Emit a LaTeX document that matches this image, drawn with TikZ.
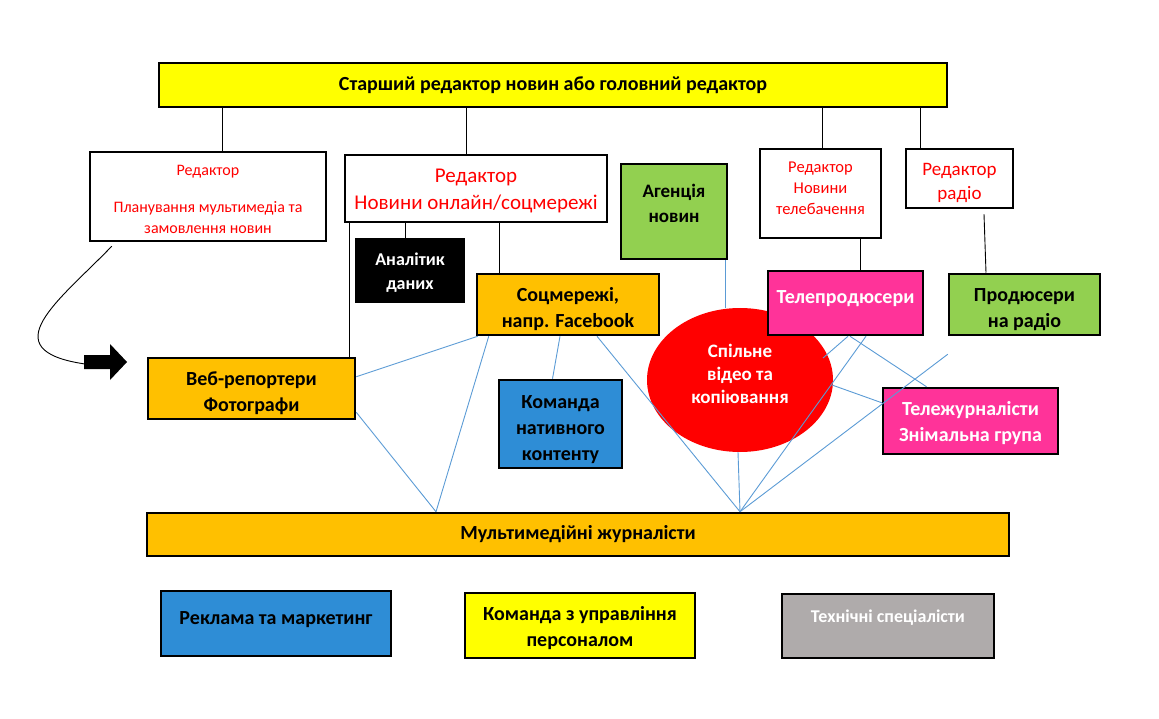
\documentclass[tikz,border=0pt]{standalone}
\usepackage{fontspec}
\setmainfont{Carlito}
\usetikzlibrary{shapes.geometric}
\definecolor{boxyellow}{RGB}{255,255,0}
\definecolor{boxorange}{RGB}{255,192,0}
\definecolor{boxgreen}{RGB}{146,208,80}
\definecolor{boxblue}{RGB}{46,141,214}
\definecolor{boxpink}{RGB}{255,51,153}
\definecolor{boxgray}{RGB}{175,171,171}
\definecolor{lineblue}{RGB}{91,155,213}
% text block moved up (positive) or down (negative) inside its box
\newcommand{\boxtext}[2]{\raisebox{#1}[\height][\depth]{\begin{tabular}{@{}c@{}}#2\end{tabular}}}
\tikzset{
  box/.style={draw, line width=2.5pt, inner sep=0pt, align=center,
    font=\bfseries\fontsize{20}{26}\selectfont},
  edbox/.style={draw, line width=2.5pt, inner sep=0pt, align=center, fill=white, text=red},
  link/.style={draw=black, line width=0.9pt},
  blink/.style={draw=lineblue, line width=0.9pt},
}
\begin{document}
\begin{tikzpicture}[x=1pt,y=-1pt]
\useasboundingbox (0,0) rectangle (1159,719);
% shared desk sits behind the producers box
\node[ellipse, fill=red, minimum width=186, minimum height=144, inner sep=0pt, align=center,
  text=white, font=\bfseries\fontsize{19}{23}\selectfont] (shared) at (740,380)
  {\boxtext{4pt}{Спільне\\відео та\\копіювання}};
\node[box, fill=boxyellow, minimum width=788, minimum height=44] (top) at (553,85)
  {Старший редактор новин або головний редактор};
\node[edbox, minimum width=236, minimum height=89, font=\fontsize{16}{21}\selectfont] (plan) at (208,196.5)
  {\boxtext{-4pt}{Редактор\\[16pt]Планування мультимедіа та\\замовлення новин}};
\node[edbox, minimum width=262, minimum height=67, font=\fontsize{21}{27}\selectfont] (online) at (476,188.5)
  {\boxtext{-2pt}{Редактор\\Новини онлайн/соцмережі}};
\node[box, fill=black, text=white, minimum width=108, minimum height=63,
  font=\bfseries\fontsize{18}{24}\selectfont] (anal) at (410,270.5) {\boxtext{-2pt}{Аналітик\\даних}};
\node[box, fill=boxorange, minimum width=182, minimum height=61] (soc) at (568,304.5)
  {\boxtext{-5pt}{Соцмережі,\\напр. Facebook}};
\node[box, fill=boxgreen, minimum width=106, minimum height=95, font=\bfseries\fontsize{19}{25}\selectfont] (agency) at (674,211.5)
  {\boxtext{6pt}{Агенція\\новин}};
\node[edbox, minimum width=121, minimum height=89, font=\fontsize{16.5}{21}\selectfont] (tved) at (820.5,193.5)
  {\boxtext{4pt}{Редактор\\Новини\\телебачення}};
\node[edbox, minimum width=107, minimum height=59, font=\fontsize{19}{24}\selectfont] (radioed) at (959.5,178.5)
  {\boxtext{-4pt}{Редактор\\радіо}};
\node[box, fill=boxpink, text=white, minimum width=155, minimum height=64] (tvprod) at (845.5,303)
  {\boxtext{5pt}{Телепродюсери}};
\node[box, fill=boxgreen, minimum width=151, minimum height=61] (radprod) at (1024.5,304.5)
  {\boxtext{-5pt}{Продюсери\\на радіо}};
\node[box, fill=boxorange, minimum width=207, minimum height=61] (web) at (251.5,388.5)
  {\boxtext{-5pt}{Веб-репортери\\Фотографи}};
\node[box, fill=boxblue, minimum width=123, minimum height=88] (native) at (560.5,424)
  {\boxtext{-5pt}{Команда\\нативного\\контенту}};
\node[box, fill=boxpink, text=white, minimum width=175, minimum height=66] (telej) at (970.5,421)
  {\boxtext{-2pt}{Тележурналісти\\Знімальна група}};
\node[box, fill=boxorange, minimum width=862, minimum height=43] (mm) at (578,534.5)
  {Мультимедійні журналісти};
\node[box, fill=boxblue, minimum width=230, minimum height=65] (ad) at (276,623.5)
  {\boxtext{4pt}{Реклама та маркетинг}};
\node[box, fill=boxyellow, minimum width=230, minimum height=65] (hr) at (580,625.5)
  {\boxtext{-3pt}{Команда з управління\\персоналом}};
\node[box, fill=boxgray, text=white, minimum width=212, minimum height=64,
  font=\bfseries\fontsize{18}{24}\selectfont] (tech) at (888,626)
  {\boxtext{8pt}{Технічні спеціалісти}};
% block arrow
\fill (84,355) -- (110,355) -- (110,344) -- (127,362) -- (110,380) -- (110,369) -- (84,369) -- cycle;
\coordinate (tail) at (85,364);
% reporting lines
\draw[link] ([xshift=14]plan.north) -- ([xshift=14]plan.north |- top.south);
\draw[link] ([xshift=-10]online.north) -- ([xshift=-10]online.north |- top.south);
\draw[link] ([xshift=1.5]tved.north) -- ([xshift=1.5]tved.north |- top.south);
\draw[link] ([xshift=-39.5]radioed.north) -- ([xshift=-39.5]radioed.north |- top.south);
\draw[link] ([xshift=-5]anal.north) -- ([xshift=-5]anal.north |- online.south);
\draw[link] ([xshift=-69]soc.north) -- ([xshift=-69]soc.north |- online.south);
\draw[link] ([xshift=6]online.south west) -- ([xshift=6]online.south west |- web.north);
\draw[link] ([xshift=14.5]tvprod.north) -- ([xshift=14.5]tvprod.north |- tved.south);
\draw[link] ([xshift=24.5,yshift=-5]radioed.south) -- ([xshift=-38.5]radprod.north);
\draw[link] ([xshift=23,yshift=-4]plan.south west) .. controls (60,300) and (-10,350) .. (tail);
% cooperation lines
\draw[blink] ([yshift=-20]web.north east) -- ([xshift=2]soc.south west);
\draw[blink] ([yshift=8]web.south east) -- ([xshift=-142]mm.north);
\draw[blink] ([xshift=13]soc.south west) -- ([xshift=-142]mm.north);
\draw[blink] ([xshift=-8]soc.south) -- ([xshift=-8]native.north);
\draw[blink] ([xshift=29]soc.south) -- ([xshift=162]mm.north);
\draw[blink] ([xshift=51]agency.south) -- ([xshift=51]agency.south |- shared.north);
\draw[blink] ([xshift=-2]shared.south) -- ([xshift=162]mm.north);
\draw[blink] ([xshift=2.5]tvprod.south) -- ([shift={(83,-22)}]shared.center);
\draw[blink] ([xshift=4.5]tvprod.south) -- ([xshift=-44]telej.north);
\draw[blink] ([xshift=20.5]tvprod.south) -- ([xshift=162]mm.north);
\draw[blink] ([shift={(92,5)}]shared.center) -- ([yshift=-16]telej.north west);
\draw[blink] ([yshift=-18]radprod.south west) -- ([xshift=162]mm.north);
\end{tikzpicture}
\end{document}
